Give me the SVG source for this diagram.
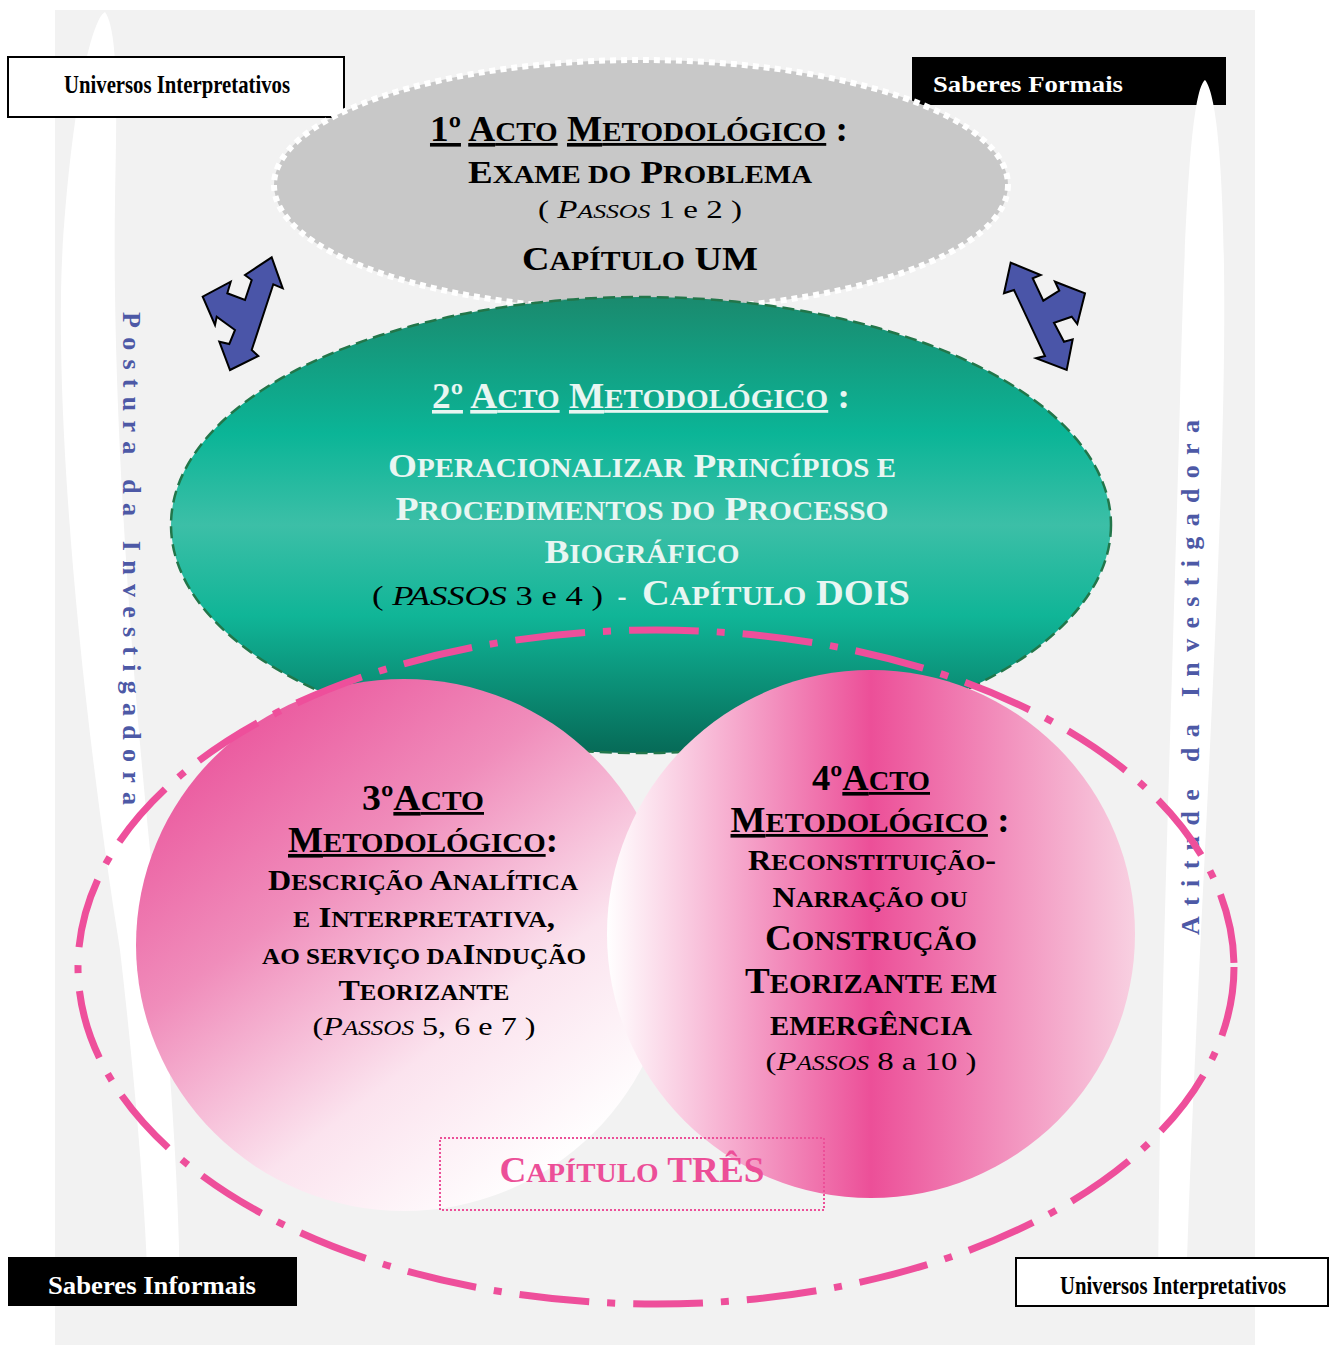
<svg xmlns="http://www.w3.org/2000/svg" width="1330" height="1345" viewBox="0 0 1330 1345">
<style>
.t{font-family:"Liberation Serif",serif;font-weight:bold;}
.r{font-family:"Liberation Serif",serif;font-weight:normal;}
.s{font-size:78%;}
.u{text-decoration:underline;}
.i{font-style:italic;}
.lbl{font-family:"Liberation Serif",serif;font-weight:bold;font-size:23px;}
.cond{font-size:25px;}
.vert{font-family:"Liberation Serif",serif;font-weight:bold;font-size:26px;fill:#4d59a6;}
.arrow{fill:#4a55a8;stroke:#000;stroke-width:2;stroke-linejoin:miter;}
</style>
<defs>
<linearGradient id="gGreen" x1="0" y1="0" x2="0" y2="1">
<stop offset="0" stop-color="#1a8a6e"/>
<stop offset="0.3" stop-color="#0bb597"/>
<stop offset="0.5" stop-color="#3cbfa7"/>
<stop offset="0.7" stop-color="#10b597"/>
<stop offset="1" stop-color="#066a57"/>
</linearGradient>
<linearGradient id="gPinkL" x1="0.1" y1="0.1" x2="0.75" y2="0.95">
<stop offset="0" stop-color="#ea539b"/>
<stop offset="0.35" stop-color="#f08dbb"/>
<stop offset="0.7" stop-color="#fbe3ee"/>
<stop offset="1" stop-color="#ffffff"/>
</linearGradient>
<linearGradient id="gPinkR" x1="0" y1="0" x2="1" y2="0">
<stop offset="0" stop-color="#ffffff"/>
<stop offset="0.5" stop-color="#ec4f98"/>
<stop offset="1" stop-color="#f8d0e1"/>
</linearGradient>
</defs>

<g id="background">
<rect x="55" y="10" width="1200" height="1335" fill="#f2f2f2"/>
<path d="M105 12 C90 20 70 120 62 260 C55 420 80 700 120 950 C135 1080 145 1200 148 1290 L180 1290 C178 1150 165 1000 150 850 C130 650 112 400 115 200 C117 100 118 30 105 12 Z" fill="#ffffff"/>
</g>

<g id="label-universos-top">
<rect x="8" y="57" width="336" height="60" fill="#ffffff" stroke="#000" stroke-width="2"/>
<text x="177" y="93" class="lbl cond" text-anchor="middle" textLength="226" lengthAdjust="spacingAndGlyphs">Universos Interpretativos</text>
</g>
<g id="label-saberes-formais">
<rect x="912" y="57" width="314" height="48" fill="#000"/>
<text x="933" y="92" class="lbl" fill="#ffffff" textLength="190" lengthAdjust="spacingAndGlyphs">Saberes Formais</text>
</g>
<path id="blade-right" d="M1205 80 C1192 90 1185 200 1180 400 C1172 700 1160 1000 1158 1290 L1186 1290 C1195 1000 1215 700 1222 450 C1228 250 1222 100 1205 80 Z" fill="#ffffff"/>
<g id="label-saberes-informais">
<rect x="8" y="1257" width="289" height="49" fill="#000"/>
<text x="152" y="1294" class="lbl cond" fill="#ffffff" text-anchor="middle" textLength="208" lengthAdjust="spacingAndGlyphs">Saberes Informais</text>
</g>
<g id="label-universos-bottom">
<rect x="1016" y="1258" width="312" height="48" fill="#ffffff" stroke="#000" stroke-width="2"/>
<text x="1173" y="1294" class="lbl cond" text-anchor="middle" textLength="226" lengthAdjust="spacingAndGlyphs">Universos Interpretativos</text>
</g>

<g id="acto1">
<ellipse cx="641" cy="185" rx="367" ry="125" fill="#c8c8c8" stroke="#ffffff" stroke-width="6" stroke-dasharray="6 5"/>
<text x="639" y="141" class="t" font-size="36" text-anchor="middle" textLength="418" lengthAdjust="spacingAndGlyphs"><tspan class="u">1º</tspan> <tspan class="u">A<tspan class="s">CTO</tspan></tspan> <tspan class="u">M<tspan class="s">ETODOLÓGICO</tspan></tspan> :</text>
<text x="640" y="183" class="t" font-size="32" text-anchor="middle" textLength="344" lengthAdjust="spacingAndGlyphs">E<tspan class="s">XAME DO</tspan> P<tspan class="s">ROBLEMA</tspan></text>
<text x="640" y="218" class="r" font-size="25" text-anchor="middle" textLength="204" lengthAdjust="spacingAndGlyphs">( <tspan class="i">P<tspan class="s">ASSOS</tspan></tspan> 1  e  2 )</text>
<text x="640" y="270" class="t" font-size="34" text-anchor="middle" textLength="236" lengthAdjust="spacingAndGlyphs">C<tspan class="s">APÍTULO</tspan>  UM</text>
</g>

<g id="acto2">
<ellipse cx="641" cy="525" rx="470" ry="228" fill="url(#gGreen)" stroke="#22764a" stroke-width="2.5" stroke-dasharray="12 6"/>
<g fill="#e8f6f2">
<text x="641" y="408" class="t" font-size="36" text-anchor="middle" textLength="418" lengthAdjust="spacingAndGlyphs"><tspan class="u">2º</tspan> <tspan class="u">A<tspan class="s">CTO</tspan></tspan> <tspan class="u">M<tspan class="s">ETODOLÓGICO</tspan></tspan> :</text>
<text x="642" y="477" class="t" font-size="34" text-anchor="middle" textLength="508" lengthAdjust="spacingAndGlyphs">O<tspan class="s">PERACIONALIZAR</tspan> P<tspan class="s">RINCÍPIOS E</tspan></text>
<text x="642" y="520" class="t" font-size="34" text-anchor="middle" textLength="493" lengthAdjust="spacingAndGlyphs">P<tspan class="s">ROCEDIMENTOS  DO</tspan> P<tspan class="s">ROCESSO</tspan></text>
<text x="642" y="563" class="t" font-size="34" text-anchor="middle" textLength="195" lengthAdjust="spacingAndGlyphs">B<tspan class="s">IOGRÁFICO</tspan></text>
</g>
<text x="372" y="605" class="r" font-size="27" fill="#000" textLength="231" lengthAdjust="spacingAndGlyphs">( <tspan class="i">PASSOS</tspan>  3  e  4  )</text>
<text x="622" y="605" class="t" font-size="27" fill="#e8f6f2" text-anchor="middle">-</text>
<text x="642" y="605" class="t" font-size="36" fill="#e8f6f2" textLength="268" lengthAdjust="spacingAndGlyphs">C<tspan class="s">APÍTULO</tspan>  DOIS</text>
</g>

<g id="acto3">
<ellipse cx="404" cy="945" rx="268" ry="266" fill="url(#gPinkL)"/>
<text x="423" y="810" class="t" font-size="36" text-anchor="middle" textLength="122" lengthAdjust="spacingAndGlyphs">3º<tspan class="u">A<tspan class="s">CTO</tspan></tspan></text>
<text x="423" y="852" class="t" font-size="36" text-anchor="middle" textLength="270" lengthAdjust="spacingAndGlyphs"><tspan class="u">M<tspan class="s">ETODOLÓGICO</tspan></tspan>:</text>
<text x="423" y="890" class="t" font-size="30" text-anchor="middle" textLength="310" lengthAdjust="spacingAndGlyphs">D<tspan class="s">ESCRIÇÃO</tspan> A<tspan class="s">NALÍTICA</tspan></text>
<text x="424" y="927" class="t" font-size="30" text-anchor="middle" textLength="262" lengthAdjust="spacingAndGlyphs"><tspan class="s">E</tspan> I<tspan class="s">NTERPRETATIVA</tspan>,</text>
<text x="424" y="964" class="t" font-size="30" text-anchor="middle" textLength="324" lengthAdjust="spacingAndGlyphs"><tspan class="s">AO SERVIÇO DA</tspan>I<tspan class="s">NDUÇÃO</tspan></text>
<text x="424" y="1000" class="t" font-size="30" text-anchor="middle" textLength="171" lengthAdjust="spacingAndGlyphs">T<tspan class="s">EORIZANTE</tspan></text>
<text x="424" y="1035" class="r" font-size="26" text-anchor="middle" textLength="223" lengthAdjust="spacingAndGlyphs">(<tspan class="i">P<tspan class="s">ASSOS</tspan></tspan>  5, 6   e 7  )</text>
</g>

<g id="acto4">
<ellipse cx="871" cy="934" rx="264" ry="264" fill="url(#gPinkR)"/>
<text x="871" y="790" class="t" font-size="36" text-anchor="middle" textLength="118" lengthAdjust="spacingAndGlyphs">4º<tspan class="u">A<tspan class="s">CTO</tspan></tspan></text>
<text x="870" y="832" class="t" font-size="36" text-anchor="middle" textLength="279" lengthAdjust="spacingAndGlyphs"><tspan class="u">M<tspan class="s">ETODOLÓGICO</tspan></tspan> :</text>
<text x="872" y="870" class="t" font-size="30" text-anchor="middle" textLength="248" lengthAdjust="spacingAndGlyphs">R<tspan class="s">ECONSTITUIÇÃO</tspan>-</text>
<text x="870" y="907" class="t" font-size="30" text-anchor="middle" textLength="195" lengthAdjust="spacingAndGlyphs">N<tspan class="s">ARRAÇÃO OU</tspan></text>
<text x="871" y="950" class="t" font-size="36" text-anchor="middle" textLength="212" lengthAdjust="spacingAndGlyphs">C<tspan class="s">ONSTRUÇÃO</tspan></text>
<text x="871" y="993" class="t" font-size="36" text-anchor="middle" textLength="252" lengthAdjust="spacingAndGlyphs">T<tspan class="s">EORIZANTE EM</tspan></text>
<text x="871" y="1035" class="t" font-size="36" text-anchor="middle" textLength="202" lengthAdjust="spacingAndGlyphs"><tspan class="s">EMERGÊNCIA</tspan></text>
<text x="871" y="1070" class="r" font-size="26" text-anchor="middle" textLength="211" lengthAdjust="spacingAndGlyphs">(<tspan class="i">P<tspan class="s">ASSOS</tspan></tspan>   8   a 10   )</text>
</g>

<g id="capitulo-tres">
<rect x="440" y="1138" width="384" height="72" fill="none" stroke="#ec4f98" stroke-width="2" stroke-dasharray="2 2"/>
<text x="632" y="1182" class="t" font-size="36" fill="#ec4f98" text-anchor="middle" textLength="265" lengthAdjust="spacingAndGlyphs">C<tspan class="s">APÍTULO</tspan> TRÊS</text>
</g>

<g id="connectors">
<path class="arrow" d="M271.7 257.3 L282.7 288.3 L273.3 284.3 L251.7 350 L258.3 356 L230 370 L219.3 341.7 L229.3 344 L235 330 L216.7 316.7 L215 325 L202.7 296.7 L230.7 281.7 L227.3 293.3 L245 300 L251.7 280 L245 275 Z"/>
<path class="arrow" d="M1010.7 262.7 L1040.7 275 L1032.7 278.3 L1043.3 300.7 L1059.3 290.7 L1055 281.7 L1085 293.3 L1077.3 324 L1071.7 316.7 L1054 322.7 L1064 341.7 L1072.7 339.3 L1066.7 370 L1036 358.3 L1045 356 L1014 290 L1004 293.3 Z"/>
</g>

<g id="postura">
<text class="vert" transform="translate(123,312) rotate(90)" textLength="493" lengthAdjust="spacing">Postura da Investigadora</text>
</g>
<g id="atitude">
<text class="vert" transform="translate(1199,935) rotate(-90)" textLength="515" lengthAdjust="spacing">Atitude da Investigadora</text>
</g>

<g id="enclosure">
<ellipse cx="656" cy="967" rx="578" ry="337" fill="none" stroke="#ee4f9b" stroke-width="7" stroke-dasharray="70 18 8 18"/>
</g>
</svg>
